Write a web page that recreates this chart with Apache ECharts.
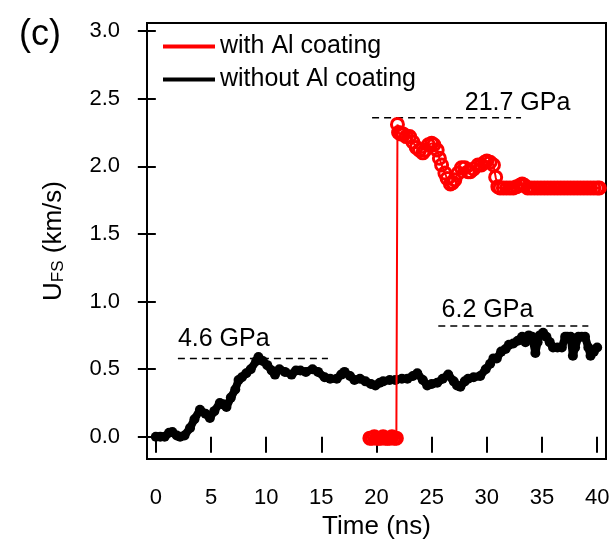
<!DOCTYPE html>
<html>
<head>
<meta charset="utf-8">
<script src="https://cdn.jsdelivr.net/npm/echarts@6/dist/echarts.min.js"></script>
<style>html,body{margin:0;padding:0;background:#fff}#c{width:614px;height:553px}</style>
</head>
<body>
<div id="c"></div>
<script>
// Time (ns), U_FS (km/s) — without Al coating (black)
const withoutAl = [
[0,0],[0.4,0],[0.8,0],[1.2,0.03],[1.5,0.035],[1.9,0.01],[2.2,0],[2.6,0.01],[3.1,0.065],[3.5,0.13],
[4.0,0.2],[4.5,0.17],[4.9,0.14],[5.3,0.19],[5.8,0.25],[6.1,0.24],[6.4,0.22],[6.8,0.29],[7.2,0.35],[7.5,0.42],
[7.8,0.44],[8.2,0.47],[8.6,0.5],[9.1,0.56],[9.3,0.59],[9.7,0.56],[10.1,0.53],[10.5,0.49],[10.8,0.46],[11.2,0.5],
[11.7,0.48],[12.3,0.46],[12.7,0.49],[13.1,0.49],[13.6,0.48],[14.2,0.5],[14.7,0.48],[15.3,0.44],[15.8,0.43],[16.4,0.43],
[16.8,0.46],[17.1,0.48],[17.6,0.45],[18.0,0.42],[18.5,0.43],[19.0,0.41],[19.5,0.39],[19.9,0.38],[20.3,0.40],[20.6,0.41],
[21.2,0.42],[21.7,0.42],[22.3,0.43],[22.8,0.43],[23.3,0.45],[23.7,0.47],[24.2,0.42],[24.6,0.38],[25.0,0.39],[25.5,0.40],
[26.0,0.43],[26.5,0.46],[27.0,0.41],[27.3,0.38],[27.6,0.37],[28.0,0.41],[28.3,0.43],[28.8,0.44],[29.4,0.45],[29.9,0.50],
[30.3,0.54],[30.6,0.58],[30.9,0.58],[31.3,0.63],[31.7,0.65],[32.0,0.68],[32.4,0.69],[32.8,0.71],[33.2,0.74],[33.5,0.70],
[33.8,0.75],[34.1,0.74],[34.4,0.62],[34.6,0.70],[34.8,0.75],[35.1,0.77],[35.4,0.74],[35.7,0.70],[36.0,0.66],[36.4,0.66],
[36.8,0.66],[37.1,0.74],[37.3,0.74],[37.6,0.74],[37.8,0.60],[38.0,0.66],[38.3,0.74],[38.6,0.74],[38.9,0.74],[39.2,0.66],
[39.4,0.60],[39.7,0.63],[40.0,0.66]
];
// with Al coating (red)
const withAl = [
[19.4,-0.01],[19.6,-0.01],[19.8,0],[20.0,-0.01],[20.2,-0.01],[20.4,-0.01],[20.6,0],[20.8,-0.01],[21.0,-0.01],[21.2,-0.01],
[21.4,0],[21.6,-0.01],[21.8,-0.01],[21.9,2.31],[22.0,2.25],[22.2,2.24],[22.4,2.24],[22.7,2.22],[23.0,2.22],[23.3,2.18],
[23.6,2.14],[23.9,2.12],[24.2,2.10],[24.4,2.12],[24.7,2.16],[25.0,2.17],[25.2,2.16],[25.5,2.12],[25.7,2.06],[25.9,2.01],
[26.2,1.95],[26.4,1.91],[26.7,1.87],[26.9,1.88],[27.1,1.90],[27.4,1.95],[27.7,1.99],[28.0,1.99],[28.3,1.96],[28.5,1.96],
[28.8,1.98],[29.2,2.01],[29.5,2.01],[29.8,2.03],[30.0,2.04],[30.3,2.03],[30.6,2.01],[30.8,1.92],[31.0,1.85],[31.2,1.84],
[31.5,1.84],[31.8,1.84],[32.1,1.84],[32.4,1.84],[32.7,1.85],[33.0,1.86],[33.2,1.87],[33.4,1.86],[33.7,1.84],[34.0,1.84],
[34.3,1.84],[34.6,1.84],[34.9,1.84],[35.2,1.84],[35.5,1.84],[35.8,1.84],[36.1,1.84],[36.4,1.84],[36.7,1.84],[37.0,1.84],
[37.3,1.84],[37.6,1.84],[37.9,1.84],[38.2,1.84],[38.5,1.84],[38.8,1.84],[39.1,1.84],[39.4,1.84],[39.7,1.84],[40.0,1.84],[40.2,1.84]
];
// dashed reference levels: [xStart, xEnd, y]
const refLines = [[2.0,15.6,0.58],[25.6,39.2,0.82],[19.6,33.1,2.36]];
// annotation texts: [x, y, text]
const annotations = [[2.0,0.72,'4.6 GPa'],[25.9,0.94,'6.2 GPa'],[28.0,2.47,'21.7 GPa']];
const xTicks = [0,5,10,15,20,25,30,35,40];
const yTicks = [0.0,0.5,1.0,1.5,2.0,2.5,3.0];
const seriesNames = ['with Al coating','without Al coating'];
const seriesColors = ['#ff0000','#000000'];

const FONT = 'Liberation Sans, Arial, sans-serif';
const chart = echarts.init(document.getElementById('c'), null, {renderer:'canvas'});
const refSeries = refLines.map(r => ({
  type:'line', data:[[r[0],r[2]],[r[1],r[2]]], symbol:'none', silent:true, z:1,
  lineStyle:{color:'#000', width:1.5, type:[7,5]}
}));
chart.setOption({
  animation:false,
  backgroundColor:'#fff',
  title:{text:'(c)', left:14, top:12, textStyle:{fontFamily:FONT, fontSize:36, fontWeight:'normal', color:'#000'}},
  grid:{left:147, top:23, right:8, bottom:94, show:true, borderColor:'#000', borderWidth:2, backgroundColor:'transparent'},
  legend:{
    orient:'vertical', left:158, top:29, itemWidth:52, itemHeight:4, itemGap:8, icon:'rect',
    data:seriesNames.map((n,i)=>({name:n, itemStyle:{color:seriesColors[i], borderWidth:0}})),
    textStyle:{fontFamily:FONT, fontSize:25, color:'#000', lineHeight:25}
  },
  xAxis:{
    type:'value', min:-0.8, max:40.8, interval:5,
    offset:2,
    axisLine:{show:false},
    axisTick:{show:true, length:16, inside:false, lineStyle:{color:'#000', width:2}, customValues:xTicks},
    axisLabel:{fontFamily:FONT, fontSize:22, color:'#000', margin:26, customValues:xTicks},
    splitLine:{show:false},
    name:'Time (ns)', nameLocation:'middle', nameGap:51,
    nameTextStyle:{fontFamily:FONT, fontSize:26, color:'#000'}
  },
  yAxis:{
    type:'value', min:-0.164, max:3.06,
    axisLine:{show:false},
    axisTick:{show:true, length:18, inside:false, lineStyle:{color:'#000', width:2}, customValues:yTicks},
    axisLabel:{fontFamily:FONT, fontSize:22, color:'#000', margin:27, customValues:yTicks, formatter:v=>v.toFixed(1)},
    splitLine:{show:false},
    name:'{u|U}{s|FS}{u| (km/s)}', nameLocation:'middle', nameGap:80, nameRotate:90,
    nameTextStyle:{fontFamily:FONT, color:'#000',
      rich:{u:{fontFamily:FONT, fontSize:26, color:'#000'}, s:{fontFamily:FONT, fontSize:17, color:'#000', padding:[10,0,0,0]}}}
  },
  series:[
    ...refSeries,
    {
      name:seriesNames[1], type:'line', data:withoutAl, z:3,
      symbol:'circle', symbolSize:10, showSymbol:true,
      itemStyle:{color:'#000'}, lineStyle:{color:'#000', width:8, cap:'round', join:'round'}
    },
    {
      name:seriesNames[0], type:'line', data:withAl, z:4,
      symbol:'circle', symbolSize:12, showSymbol:true,
      itemStyle:{color:'rgba(255,255,255,0)', borderColor:'#ff0000', borderWidth:3},
      lineStyle:{color:'#ff0000', width:2}
    },
    {
      type:'scatter', data:annotations, symbolSize:0, silent:true, z:5,
      itemStyle:{opacity:1},
      label:{show:true, position:'right', distance:0, formatter:p=>p.data[2],
        fontFamily:FONT, fontSize:25, color:'#000000', opacity:1, textBorderWidth:0}
    }
  ]
});
</script>
</body>
</html>
